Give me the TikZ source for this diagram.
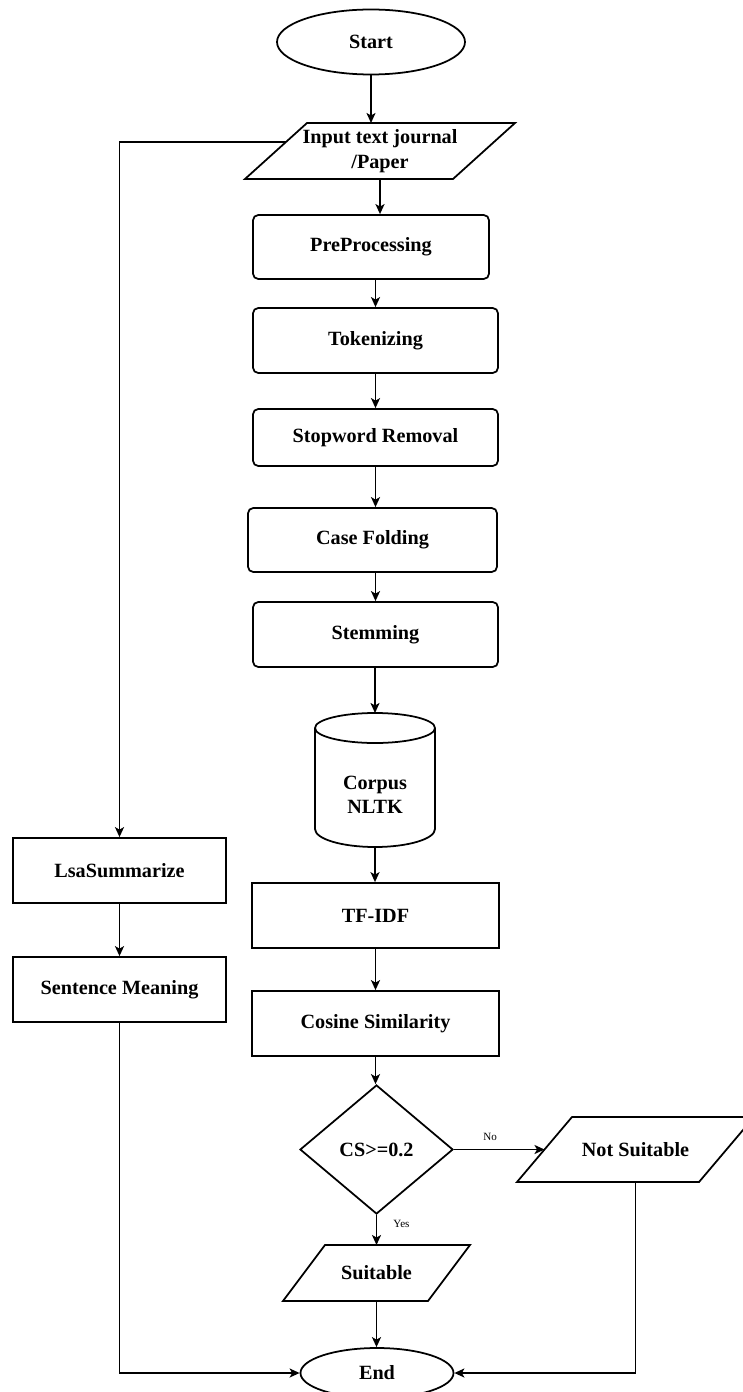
\documentclass[tikz,border=0pt]{standalone}
\usepackage{fontspec}
\setmainfont{Liberation Serif}
\usetikzlibrary{shapes.geometric,arrows.meta,calc}
\def\u{0.02cm}
% slanted outline of an input/output node: #1 node name, #2 horizontal slant
\newcommand\ioframe[2]{%
  \draw[line width=1pt, line join=miter] (#1.south west) -- ($(#1.north west)+(#2,0)$)
    -- (#1.north east) -- ($(#1.south east)+(-#2,0)$) -- cycle;}
\tikzset{
  every node/.style={font=\fontsize{11.5}{14}\selectfont\bfseries, align=center, inner sep=1pt},
  flow/.style={line width=1pt, draw=black},
  arr/.style={flow, -{Stealth[length=10*\u, width=9*\u, inset=2.5*\u]}},
  roundbox/.style={draw, line width=1pt, rounded corners=3pt, fill=white},
  sharpbox/.style={draw, line width=1pt, fill=white},
  terminal/.style={draw, line width=1pt, ellipse, fill=white},
  iobox/.style={rectangle, outer sep=0pt},
  decision/.style={draw, line width=1pt, diamond, fill=white},
  tag/.style={font=\fontsize{6.3}{7}\selectfont, inner sep=0pt}
}
\begin{document}
\begin{tikzpicture}[x=0.02cm, y=-0.02cm]
\useasboundingbox[fill=white] (0,0) rectangle (743,1392);

% main column
\node[terminal, minimum width=188*\u, minimum height=65*\u] (start) at (371,42) {Start};
\node[iobox, minimum width=270*\u, minimum height=56*\u] (input) at (380,151) {Input text journal\\/Paper};
\ioframe{input}{62}
\node[roundbox, minimum width=236*\u, minimum height=64*\u] (pre) at (371,247) {PreProcessing};
\node[roundbox, minimum width=245*\u, minimum height=65*\u] (tok) at (375.5,340.5) {Tokenizing};
\node[roundbox, minimum width=245*\u, minimum height=57*\u] (stop) at (375.5,437.5) {Stopword Removal};
\node[roundbox, minimum width=249*\u, minimum height=64*\u] (case) at (372.5,540) {Case Folding};
\node[roundbox, minimum width=245*\u, minimum height=65*\u] (stem) at (375.5,634.5) {Stemming};

% corpus store drawn as a cylinder around an empty frame node
\node[minimum width=120*\u, minimum height=134*\u, inner sep=0pt, outer sep=0pt] (corpus) at (375,780) {};
\draw[line width=1pt, fill=white] ($(corpus.north west)+(0,15)$) -- ($(corpus.south west)+(0,-18)$)
  arc[start angle=180, end angle=360, x radius=60*\u, y radius=18*\u]
  -- ($(corpus.north east)+(0,15)$);
\draw[line width=1pt, fill=white] ($(corpus.north)+(0,15)$) ellipse[x radius=60*\u, y radius=15*\u];
\node at ($(corpus.center)+(0,15)$) {Corpus\\NLTK};

\node[sharpbox, minimum width=247*\u, minimum height=65*\u] (tfidf) at (375.5,915.5) {TF-IDF};
\node[sharpbox, minimum width=247*\u, minimum height=65*\u] (cos) at (375.5,1023.5) {Cosine Similarity};
\node[decision, minimum width=153*\u, minimum height=129*\u] (dec) at (376.5,1149.5) {CS>=0.2};
\node[iobox, minimum width=187*\u, minimum height=56*\u] (suit) at (376.5,1273) {Suitable};
\ioframe{suit}{42}
\node[iobox, minimum width=237*\u, minimum height=65*\u] (ns) at (635.5,1149.5) {Not Suitable};
\ioframe{ns}{55}
\node[terminal, minimum width=153*\u, minimum height=50*\u] (end) at (377,1373) {End};

% left branch
\node[sharpbox, minimum width=213*\u, minimum height=65*\u] (lsa) at (119.5,870.5) {LsaSummarize};
\node[sharpbox, minimum width=213*\u, minimum height=65*\u] (sent) at (119.5,989.5) {Sentence Meaning};

% points on the slanted sides where connectors meet them
\coordinate (input-side) at ($(input.west)+(41,-9)$);
\coordinate (ns-side) at ($(ns.west)+(27.5,0)$);

% connectors
\draw[arr] (start.south) -- (start.south |- input.north);
\draw[arr] (input.south) -- (input.south |- pre.north);
\draw[arr] (tok.north |- pre.south) -- (tok.north);
\draw[arr] (tok.south) -- (tok.south |- stop.north);
\draw[arr] (stop.south) -- (stop.south |- case.north);
\draw[arr] (stem.north |- case.south) -- (stem.north);
\draw[arr] (corpus.north |- stem.south) -- (corpus.north);
\draw[arr] (corpus.south) -- (corpus.south |- tfidf.north);
\draw[arr] (tfidf.south) -- (tfidf.south |- cos.north);
\draw[arr] (cos.south) -- (cos.south |- dec.north);
\draw[arr] (dec.south) -- node[tag, pos=0.3, anchor=west, xshift=16*\u] {Yes} (dec.south |- suit.north);
\draw[arr] (dec.east) -- node[tag, pos=0.4, above, yshift=8*\u] {No} (ns-side);
\draw[arr] (suit.south) -- (suit.south |- end.north);
\draw[arr] (input-side) -| (lsa.north);
\draw[arr] (lsa.south) -- (sent.north);
\draw[arr] (sent.south) |- (end.west);
\draw[arr] (ns.south) |- (end.east);
\end{tikzpicture}
\end{document}
